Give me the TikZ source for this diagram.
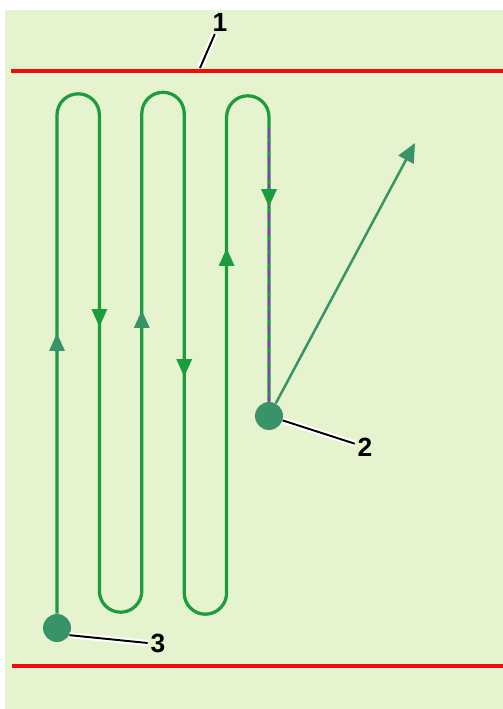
\documentclass[tikz,border=0pt]{standalone}
\usepackage{fontspec}
\setmainfont{Liberation Sans}
\usepackage{tikz}
\usetikzlibrary{arrows.meta,calc}

\definecolor{field}{RGB}{229,243,207}
\definecolor{edge}{RGB}{245,10,10}
\definecolor{track}{RGB}{28,156,60}
\definecolor{dotteal}{RGB}{56,148,104}
\definecolor{violetline}{RGB}{150,50,200}

\begin{document}
\begin{tikzpicture}[
  x=0.02cm, y=-0.02cm,
  border/.style={edge, line width=0.085cm},
  route/.style={track, line width=0.065cm, line join=round},
  dot/.style={circle, fill=dotteal, minimum size=0.56cm, inner sep=0pt},
  num/.style={font=\fontsize{15}{18}\selectfont\bfseries, inner sep=1.5pt},
  leader/.style={black, line width=1.1pt,
    preaction={draw=white, line width=3.4pt}},
  tipg/.style={track, line width=0.065cm,
    -{Triangle[length=0.36cm, width=0.3cm]}},
  tipt/.style={dotteal, line width=0.065cm,
    -{Triangle[length=0.36cm, width=0.3cm]}},
  rr/.style={radius=0.424cm},
]
  \useasboundingbox (0,0) rectangle (503,709);
  \fill[field] (5,10) rectangle (503,709);

  % field edges
  \coordinate (t0) at (11,71);
  \coordinate (t1) at (503,71);
  \coordinate (b0) at (12,666);
  \coordinate (b1) at (503,666);
  \draw[border] (t0) -- (t1);
  \draw[border] (b0) -- (b1);

  % start / stop points
  \node[dot] (start) at (57,628) {};
  \node[dot] (stop) at (269,416) {};
  \coordinate (aim) at (415,143);

  % numbers
  \node[num] (n1) at (220,22) {1};
  \node[num] (n2) at (365,447) {2};
  \node[num] (n3) at (158,643) {3};
  \coordinate (p1) at (200,68);

  \draw[leader] (p1) -- (n1);
  \draw[leader] (stop) -- (n2);
  \draw[leader] (start.-30) -- (n3.west);

  % back-and-forth track
  \draw[route] (start) -- (57,115)
    arc[start angle=180, end angle=0, rr] -- (99.4,591)
    arc[start angle=180, end angle=360, rr] -- (141.8,113.5)
    arc[start angle=180, end angle=0, rr] -- (184.2,593)
    arc[start angle=180, end angle=360, rr] -- (226.6,117)
    arc[start angle=180, end angle=0, rr] -- (stop);
  \coordinate (d0) at (269,128);
  \draw[violetline, line width=1.4pt, dash pattern=on 5.5pt off 2.5pt] (d0) -- (stop);

  % direction marks
  \draw[tipt] (57,352) -- (57,333);
  \draw[tipg] (99.4,309) -- (99.4,327);
  \draw[tipt] (141.8,328) -- (141.8,310);
  \draw[tipg] (184.2,358) -- (184.2,377);
  \draw[tipg] (226.6,266) -- (226.6,248);
  \draw[tipg] (269,188) -- (269,207);

  \draw[dotteal, line width=0.05cm, -{Triangle[length=0.38cm, width=0.34cm]}]
    (stop) -- (aim);
\end{tikzpicture}
\end{document}
